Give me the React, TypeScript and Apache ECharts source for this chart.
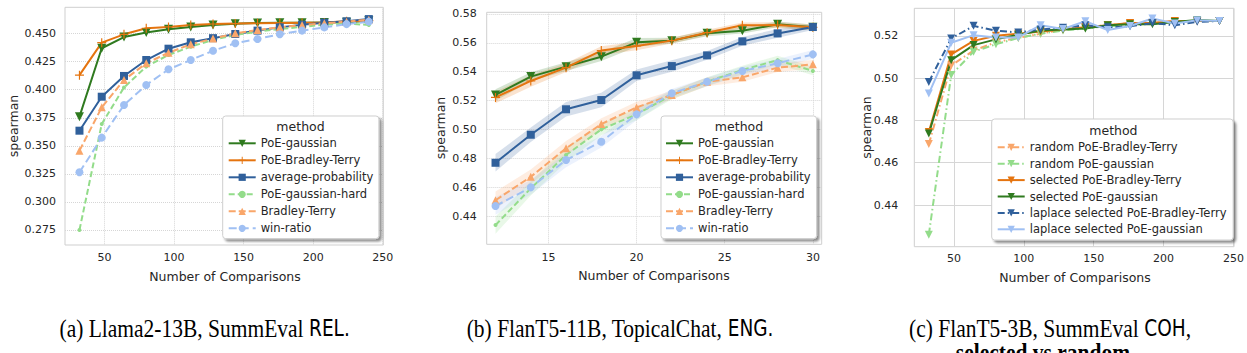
import React, { useEffect, useRef } from "react";
import * as echarts from "echarts";

// ---------- data ----------
const xA = [32, 48, 64, 80, 96, 112, 128, 144, 160, 176, 192, 208, 224, 240];
const aPoeGaussian = [0.376, 0.437, 0.447, 0.451, 0.454, 0.456, 0.4577, 0.4588, 0.4595, 0.4597, 0.4598, 0.46, 0.4602, 0.4615];
const aPoeBT = [0.413, 0.442, 0.4494, 0.4548, 0.456, 0.4577, 0.4586, 0.459, 0.4593, 0.4596, 0.4598, 0.46, 0.461, 0.4616];
const aAvgProb = [0.3635, 0.3938, 0.4123, 0.4265, 0.4366, 0.4423, 0.446, 0.4497, 0.4527, 0.4556, 0.458, 0.4598, 0.461, 0.463];
const aPoeGaussHard = [0.275, 0.3695, 0.402, 0.4206, 0.431, 0.4384, 0.4444, 0.4488, 0.4518, 0.4542, 0.456, 0.458, 0.459, 0.4578];
const aBT = [0.3457, 0.3843, 0.4087, 0.4236, 0.433, 0.4405, 0.4456, 0.4503, 0.4533, 0.4557, 0.4577, 0.4592, 0.4607, 0.4625];
const aWin = [0.3264, 0.3573, 0.3864, 0.4042, 0.4182, 0.4265, 0.4348, 0.4414, 0.4453, 0.4495, 0.4527, 0.4556, 0.4585, 0.4607];

const xB = [12, 14, 16, 18, 20, 22, 24, 26, 28, 30];
const bPoeGaussian = [0.5239, 0.5366, 0.5435, 0.5504, 0.5603, 0.5615, 0.5666, 0.5684, 0.5728, 0.5707];
const bPoeBT = [0.5222, 0.5336, 0.5428, 0.5546, 0.5578, 0.5615, 0.567, 0.5721, 0.5723, 0.5707];
const bAvgProb = [0.477, 0.4964, 0.514, 0.5204, 0.5375, 0.5439, 0.5513, 0.561, 0.5665, 0.5709];
const bPoeGaussHard = [0.4339, 0.4593, 0.4824, 0.5001, 0.5105, 0.5239, 0.5331, 0.5412, 0.548, 0.5405];
const bBT = [0.4511, 0.4673, 0.487, 0.5038, 0.5153, 0.5239, 0.533, 0.5361, 0.5428, 0.5451];
const bWin = [0.4471, 0.46, 0.4789, 0.4916, 0.5105, 0.5251, 0.533, 0.5405, 0.5458, 0.552];
// confidence half-widths (panel b)
const ciPoeGaussian = [0.004, 0.003, 0.003, 0.003, 0.003, 0.002, 0.002, 0.002, 0.002, 0.002];
const ciPoeBT = [0.004, 0.004, 0.003, 0.003, 0.003, 0.002, 0.002, 0.002, 0.002, 0.002];
const ciAvgProb = [0.006, 0.005, 0.005, 0.005, 0.004, 0.004, 0.003, 0.003, 0.003, 0.002];
const ciPoeGaussHard = [0.006, 0.005, 0.005, 0.004, 0.004, 0.003, 0.003, 0.003, 0.003, 0.003];
const ciBT = [0.006, 0.005, 0.005, 0.004, 0.004, 0.003, 0.003, 0.003, 0.003, 0.003];
const ciWin = [0.006, 0.005, 0.005, 0.004, 0.004, 0.003, 0.003, 0.003, 0.003, 0.003];

const xC = [32, 48, 64, 80, 96, 112, 128, 144, 160, 176, 192, 208, 224, 240];
const cRandBT = [0.4688, 0.506, 0.513, 0.517, 0.519, 0.521, 0.523, 0.524, 0.525, 0.526, 0.526, 0.527, 0.527, 0.527];
const cRandGauss = [0.426, 0.5015, 0.5125, 0.516, 0.519, 0.521, 0.5225, 0.5235, 0.5245, 0.525, 0.526, 0.5265, 0.527, 0.527];
const cSelBT = [0.4745, 0.5112, 0.5176, 0.52, 0.521, 0.522, 0.523, 0.524, 0.525, 0.526, 0.526, 0.527, 0.527, 0.527];
const cSelGauss = [0.4738, 0.5085, 0.5156, 0.5183, 0.5205, 0.5225, 0.523, 0.5235, 0.525, 0.5255, 0.5255, 0.5265, 0.5275, 0.527];
const cLapBT = [0.4982, 0.5187, 0.5247, 0.5224, 0.5216, 0.523, 0.5238, 0.525, 0.524, 0.5245, 0.526, 0.525, 0.5266, 0.527];
const cLapGauss = [0.4927, 0.5167, 0.5203, 0.5192, 0.5192, 0.525, 0.5232, 0.5269, 0.5227, 0.5246, 0.5282, 0.5258, 0.5274, 0.527];

const xTicksA = [50, 100, 150, 200, 250];
const yTicksA = [0.275, 0.3, 0.325, 0.35, 0.375, 0.4, 0.425, 0.45];
const xTicksB = [15, 20, 25, 30];
const yTicksB = [0.44, 0.46, 0.48, 0.5, 0.52, 0.54, 0.56, 0.58];
const xTicksC = [50, 100, 150, 200, 250];
const yTicksC = [0.44, 0.46, 0.48, 0.5, 0.52];

const namesAB = ["PoE-gaussian", "PoE-Bradley-Terry", "average-probability", "PoE-gaussian-hard", "Bradley-Terry", "win-ratio"];
const namesC = [
  "random PoE-Bradley-Terry",
  "random PoE-gaussian",
  "selected PoE-Bradley-Terry",
  "selected PoE-gaussian",
  "laplace selected PoE-Bradley-Terry",
  "laplace selected PoE-gaussian",
];

// ---------- styles ----------
const COL = {
  green: "#2f7a1f",
  orange: "#e5740f",
  blue: "#30609b",
  lgreen: "#93dc8a",
  lorange: "#f9a66a",
  lblue: "#a0c0f3",
};
const TXT = "#262626";
const FONT = "DejaVu Sans";
const triDown = "path://M0,0L10,0L5,9Z";
const triUp = "path://M5,0L10,9L0,9Z";
const plus = "path://M4.35,0h1.3v10h-1.3z M0,4.35h10v1.3h-10z";
const dashA = [6, 3];
const dashDot = [7, 3, 1.5, 3];

function ser(name: string, xs: number[], ys: number[], idx: number, color: string, symbol: string, size: number, type: any, z = 3) {
  return {
    type: "line",
    name,
    xAxisIndex: idx,
    yAxisIndex: idx,
    data: xs.map((x, i) => [x, ys[i]]),
    symbol,
    symbolSize: size,
    showSymbol: true,
    lineStyle: { color, width: 2, type },
    itemStyle: { color },
    emphasis: { disabled: true },
    z,
  };
}

function band(id: string, xs: number[], ys: number[], ci: number[], idx: number, color: string) {
  return {
    type: "custom",
    name: id,
    xAxisIndex: idx,
    yAxisIndex: idx,
    silent: true,
    clip: true,
    z: 1,
    data: [[xs[0], ys[0]]],
    renderItem: (_params: any, api: any) => {
      const pts: number[][] = [];
      for (let i = 0; i < xs.length; i++) pts.push(api.coord([xs[i], ys[i] + ci[i]]));
      for (let i = xs.length - 1; i >= 0; i--) pts.push(api.coord([xs[i], ys[i] - ci[i]]));
      return {
        type: "polygon",
        shape: { points: pts },
        style: { fill: color, opacity: 0.2 },
      };
    },
  };
}

function xAxis(idx: number, min: number, max: number, ticks: number[], margin: number, gridType: any) {
  return {
    type: "value",
    gridIndex: idx,
    min,
    max,
    axisLine: { show: false },
    axisTick: { show: false, customValues: ticks },
    axisLabel: { customValues: ticks, color: TXT, fontSize: 11, fontFamily: FONT, margin },
    splitLine: { show: true, lineStyle: { color: "#d6d6d6", type: gridType, width: 1 } },
  };
}
function yAxis(idx: number, min: number, max: number, ticks: number[], margin: number, digits: number, gridType: any) {
  return {
    type: "value",
    gridIndex: idx,
    min,
    max,
    axisLine: { show: false },
    axisTick: { show: false, customValues: ticks },
    axisLabel: {
      customValues: ticks,
      color: TXT,
      fontSize: 11,
      fontFamily: FONT,
      margin,
      formatter: (v: number) => v.toFixed(digits),
    },
    splitLine: { show: true, lineStyle: { color: "#d6d6d6", type: gridType, width: 1 } },
  };
}

function legend(names: string[], left: number, top: number, padding: number[], gap: number) {
  return {
    data: names,
    orient: "vertical",
    left,
    top,
    padding,
    itemGap: gap,
    itemWidth: 27,
    itemHeight: 9,
    backgroundColor: "#ffffff",
    borderColor: "#cfcfcf",
    borderWidth: 1,
    borderRadius: 3,
    shadowColor: "rgba(0,0,0,0.45)",
    shadowBlur: 2,
    shadowOffsetX: 2.5,
    shadowOffsetY: 2.5,
    selectedMode: false,
    textStyle: { color: TXT, fontSize: 11.5, fontFamily: FONT, lineHeight: 14 },
  };
}

function txt(text: string, x: number, y: number, size: number, rotate = 0, extra: any = {}) {
  return {
    type: "text",
    x,
    y,
    rotation: rotate,
    silent: true,
    style: {
      text,
      fontSize: size,
      fontFamily: FONT,
      fill: TXT,
      textAlign: "center",
      textVerticalAlign: "middle",
      ...extra,
    },
  };
}

function caption(text: string, x: number, y: number, align: string, bold = false) {
  return {
    type: "text",
    x,
    y,
    scaleY: 1.2,
    silent: true,
    style: {
      text,
      fontSize: 21.5,
      fontFamily: "Liberation Serif",
      fontWeight: bold ? "bold" : "normal",
      fill: "#000",
      textAlign: align,
      textVerticalAlign: "middle",
      rich: { s: { fontFamily: "DejaVu Sans", fontSize: 18.5, fill: "#000" } },
    },
  };
}

export default function App() {
  const ref = useRef<HTMLDivElement>(null);
  useEffect(() => {
    if (!ref.current) return;
    const chart = echarts.init(ref.current, undefined, { renderer: "svg" });
    const series: any[] = [
      // panel a
      ser("PoE-gaussian", xA, aPoeGaussian, 0, COL.green, triDown, 9, "solid"),
      ser("PoE-Bradley-Terry", xA, aPoeBT, 0, COL.orange, plus, 9, "solid"),
      ser("average-probability", xA, aAvgProb, 0, COL.blue, "rect", 8, "solid"),
      ser("PoE-gaussian-hard", xA, aPoeGaussHard, 0, COL.lgreen, "circle", 4, dashA),
      ser("Bradley-Terry", xA, aBT, 0, COL.lorange, triUp, 8, [7, 3]),
      ser("win-ratio", xA, aWin, 0, COL.lblue, "circle", 8, [8, 4]),
      // panel b bands
      band("bg", xB, bPoeGaussian, ciPoeGaussian, 1, COL.green),
      band("bo", xB, bPoeBT, ciPoeBT, 1, COL.orange),
      band("bb", xB, bAvgProb, ciAvgProb, 1, COL.blue),
      band("blg", xB, bPoeGaussHard, ciPoeGaussHard, 1, COL.lgreen),
      band("blo", xB, bBT, ciBT, 1, COL.lorange),
      band("blb", xB, bWin, ciWin, 1, COL.lblue),
      // panel b
      ser("PoE-gaussian", xB, bPoeGaussian, 1, COL.green, triDown, 9, "solid"),
      ser("PoE-Bradley-Terry", xB, bPoeBT, 1, COL.orange, plus, 9, "solid"),
      ser("average-probability", xB, bAvgProb, 1, COL.blue, "rect", 8, "solid"),
      ser("PoE-gaussian-hard", xB, bPoeGaussHard, 1, COL.lgreen, "circle", 4, dashA),
      ser("Bradley-Terry", xB, bBT, 1, COL.lorange, triUp, 8, [7, 3]),
      ser("win-ratio", xB, bWin, 1, COL.lblue, "circle", 8, [8, 4]),
      // panel c
      ser(namesC[0], xC, cRandBT, 2, COL.lorange, triDown, 8, dashDot),
      ser(namesC[1], xC, cRandGauss, 2, COL.lgreen, triDown, 8, dashDot),
      ser(namesC[2], xC, cSelBT, 2, COL.orange, triDown, 8, "solid"),
      ser(namesC[3], xC, cSelGauss, 2, COL.green, triDown, 8, "solid"),
      ser(namesC[4], xC, cLapBT, 2, COL.blue, triDown, 8, dashDot),
      ser(namesC[5], xC, cLapGauss, 2, COL.lblue, triDown, 8, "solid"),
    ];

    const option: any = {
      animation: false,
      backgroundColor: "#ffffff",
      textStyle: { fontFamily: FONT },
      grid: [
        { left: 65, top: 7.3, width: 318.3, height: 237.7, show: true, borderColor: "#cfcfcf", borderWidth: 1, backgroundColor: "#fff" },
        { left: 486.7, top: 12.3, width: 335, height: 232, show: true, borderColor: "#cfcfcf", borderWidth: 1, backgroundColor: "#fff" },
        { left: 914.3, top: 8.3, width: 324, height: 238.4, show: true, borderColor: "#cfcfcf", borderWidth: 1, backgroundColor: "#fff" },
      ],
      xAxis: [
        xAxis(0, 21.6, 250.4, xTicksA, 7, "dotted"),
        xAxis(1, 11.5, 30.5, xTicksB, 8, "dotted"),
        xAxis(2, 21.6, 250.4, xTicksC, 6, "solid"),
      ],
      yAxis: [
        yAxis(0, 0.2616, 0.4735, yTicksA, 9, 3, "dotted"),
        yAxis(1, 0.4206, 0.5811, yTicksB, 10, 2, "dotted"),
        yAxis(2, 0.4203, 0.533, yTicksC, 16, 2, "solid"),
      ],
      legend: [
        legend(namesAB, 222.7, 116, [20.3, 5.6, 3.3, 5], 3),
        legend(namesAB, 661, 116, [20.3, 6, 3.3, 4], 3),
        legend(namesC, 991.7, 119, [21.3, 6.7, 3.7, 5], 2.4),
      ],
      series,
      graphic: [
        txt("Number of Comparisons", 225, 276, 12.5),
        txt("Number of Comparisons", 654, 275, 12.5),
        txt("Number of Comparisons", 1075, 277, 12.5),
        txt("spearman", 13, 126, 12.5, Math.PI / 2),
        txt("spearman", 440, 128, 12.5, Math.PI / 2),
        txt("spearman", 866.7, 127.5, 12.5, Math.PI / 2),
        { ...txt("method", 300.5, 126, 12.5), z: 100 },
        { ...txt("method", 739, 126, 12.5), z: 100 },
        { ...txt("method", 1113.4, 130, 12.5), z: 100 },
        caption("(a) Llama2-13B, SummEval {s|REL.}", 59.5, 328, "left"),
        caption("(b) FlanT5-11B, TopicalChat, {s|ENG.}", 466.7, 328, "left"),
        caption("(c) FlanT5-3B, SummEval {s|COH},", 909, 328, "left"),
        caption("selected vs random", 1043, 352, "center", true),
      ],
    };
    chart.setOption(option);
    return () => chart.dispose();
  }, []);
  return <div ref={ref} style={{ position: "absolute", left: 0, top: 0, width: 1247, height: 353 }} />;
}
